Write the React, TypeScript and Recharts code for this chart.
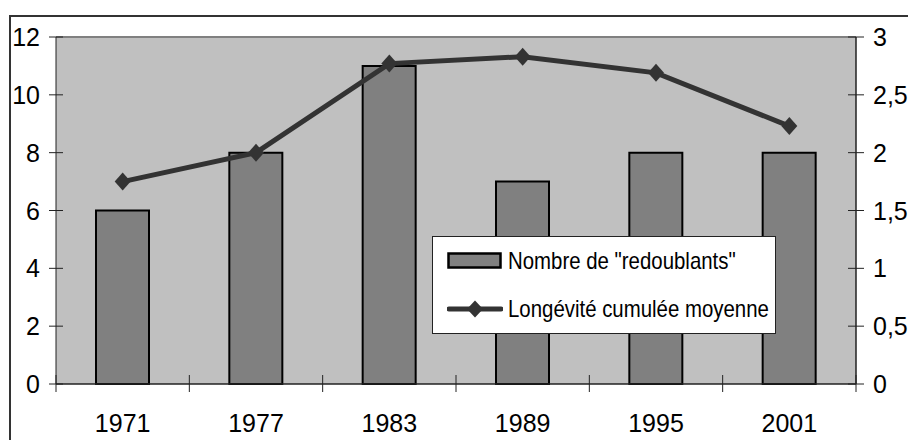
import React from 'react';
import { ComposedChart, Bar, Line, XAxis, YAxis, Legend, ReferenceLine, CartesianGrid } from 'recharts';

const years = ['1971', '1977', '1983', '1989', '1995', '2001'];
const redoublants = [6, 8, 11, 7, 8, 8];
const longevite = [1.75, 2.0, 2.77, 2.83, 2.69, 2.23];
const leftTicks = [0, 2, 4, 6, 8, 10, 12];
const rightTicks = [0, 0.5, 1, 1.5, 2, 2.5, 3];

const data = years.map((year, i) => ({
  year,
  redoublants: redoublants[i],
  longevite: longevite[i],
}));

const W = 908;
const H = 440;
const PLOT_LEFT = 56;
const PLOT_RIGHT = 856;
const BAND = (PLOT_RIGHT - PLOT_LEFT) / years.length;
const FONT = '"Liberation Sans", Arial, sans-serif';

const LeftTick = (props: any) => {
  const { x, y, payload } = props;
  return (
    <g>
      <line x1={x - 7} x2={x + 7} y1={y} y2={y} stroke="#222" strokeWidth={1} />
      <text x={x - 16} y={y} dy="0.36em" textAnchor="end" fontSize={25} fontFamily={FONT} fill="#000">
        {String(payload.value)}
      </text>
    </g>
  );
};

const RightTick = (props: any) => {
  const { x, y, payload } = props;
  return (
    <g>
      <line x1={x - 8} x2={x + 8} y1={y} y2={y} stroke="#222" strokeWidth={1} />
      <text x={x + 17} y={y} dy="0.36em" textAnchor="start" fontSize={25} fontFamily={FONT} fill="#000">
        {String(payload.value).replace('.', ',')}
      </text>
    </g>
  );
};

const BottomTick = (props: any) => {
  const { x, y, payload, index } = props;
  const left = x - BAND / 2;
  return (
    <g>
      <line x1={left} x2={left} y1={y - 9} y2={y + 8} stroke="#222" strokeWidth={1} />
      {index === years.length - 1 && (
        <line x1={x + BAND / 2} x2={x + BAND / 2} y1={y - 9} y2={y + 8} stroke="#222" strokeWidth={1} />
      )}
      <text x={x} y={y + 48} textAnchor="middle" fontSize={25} fontFamily={FONT} fill="#000">
        {payload.value}
      </text>
    </g>
  );
};

const Diamond = (props: any) => {
  const { cx, cy } = props;
  if (cx == null || cy == null) return null;
  const rx = 8;
  const ry = 9;
  return <path d={`M${cx},${cy - ry} L${cx + rx},${cy} L${cx},${cy + ry} L${cx - rx},${cy} Z`} fill="#333333" />;
};

const labelStyle: React.CSSProperties = {
  lineHeight: '20px',
  display: 'inline-block',
  transform: 'scaleX(0.85)',
  transformOrigin: 'left center',
};

const renderLegend = () => (
  <div
    style={{
      width: 344,
      height: 98,
      background: '#fff',
      border: '1.5px solid #222',
      boxSizing: 'border-box',
      fontFamily: FONT,
      fontSize: 24,
      color: '#000',
      position: 'relative',
    }}
  >
    <div style={{ position: 'absolute', left: 14, top: 14, display: 'flex', alignItems: 'center', whiteSpace: 'nowrap' }}>
      <svg width={56} height={18} style={{ marginRight: 5 }}>
        <rect x={1.5} y={1.5} width={52} height={14} fill="#808080" stroke="#000" strokeWidth={2.5} />
      </svg>
      <span style={labelStyle}>Nombre de "redoublants"</span>
    </div>
    <div style={{ position: 'absolute', left: 14, top: 62, display: 'flex', alignItems: 'center', whiteSpace: 'nowrap' }}>
      <svg width={56} height={18} style={{ marginRight: 5 }}>
        <line x1={2} x2={54} y1={9} y2={9} stroke="#333" strokeWidth={5} strokeLinecap="round" />
        <path d="M28,0.5 L36,9 L28,17.5 L20,9 Z" fill="#333" />
      </svg>
      <span style={labelStyle}>Longévité cumulée moyenne</span>
    </div>
  </div>
);

export default function App() {
  return (
    <div style={{ position: 'absolute', left: 0, top: 0, width: W, height: H, overflow: 'hidden', background: '#fff' }}>
      <div
        style={{
          position: 'absolute',
          left: 9,
          top: 15,
          width: W + 20,
          height: H + 20,
          border: '2px solid #333',
        }}
      />
      <div style={{ position: 'absolute', left: 0, top: 0 }}>
        <ComposedChart
          width={W}
          height={H}
          data={data}
          margin={{ top: 37, right: 0, bottom: 0, left: 0 }}
          barCategoryGap="30%"
        >
          <CartesianGrid fill="#c0c0c0" horizontal={false} vertical={false} stroke="none" yAxisId="left" />
          <XAxis
            dataKey="year"
            height={56}
            axisLine={{ stroke: '#222', strokeWidth: 1.5 }}
            tickLine={false}
            tickSize={0}
            tickMargin={0}
            tick={<BottomTick />}
            interval={0}
          />
          <YAxis
            yAxisId="left"
            orientation="left"
            width={PLOT_LEFT}
            domain={[0, 12]}
            ticks={leftTicks}
            axisLine={{ stroke: '#222', strokeWidth: 1 }}
            tickLine={false}
            tickSize={0}
            tickMargin={0}
            tick={<LeftTick />}
            interval={0}
          />
          <YAxis
            yAxisId="right"
            orientation="right"
            width={W - PLOT_RIGHT}
            domain={[0, 3]}
            ticks={rightTicks}
            axisLine={{ stroke: '#222', strokeWidth: 1.5 }}
            tickLine={false}
            tickSize={0}
            tickMargin={0}
            tick={<RightTick />}
            interval={0}
          />
          <ReferenceLine yAxisId="left" y={12} stroke="#808080" strokeWidth={2} />
          <Bar
            yAxisId="left"
            dataKey="redoublants"
            fill="#808080"
            stroke="#000"
            strokeWidth={2}
            isAnimationActive={false}
          />
          <Line
            yAxisId="right"
            dataKey="longevite"
            stroke="#333333"
            strokeWidth={5}
            dot={<Diamond />}
            activeDot={false}
            isAnimationActive={false}
          />
          <Legend
            layout="vertical"
            align="center"
            verticalAlign="middle"
            content={renderLegend}
            wrapperStyle={{ position: 'absolute', left: 432, top: 236, width: 344, height: 98 }}
          />
        </ComposedChart>
      </div>
    </div>
  );
}
